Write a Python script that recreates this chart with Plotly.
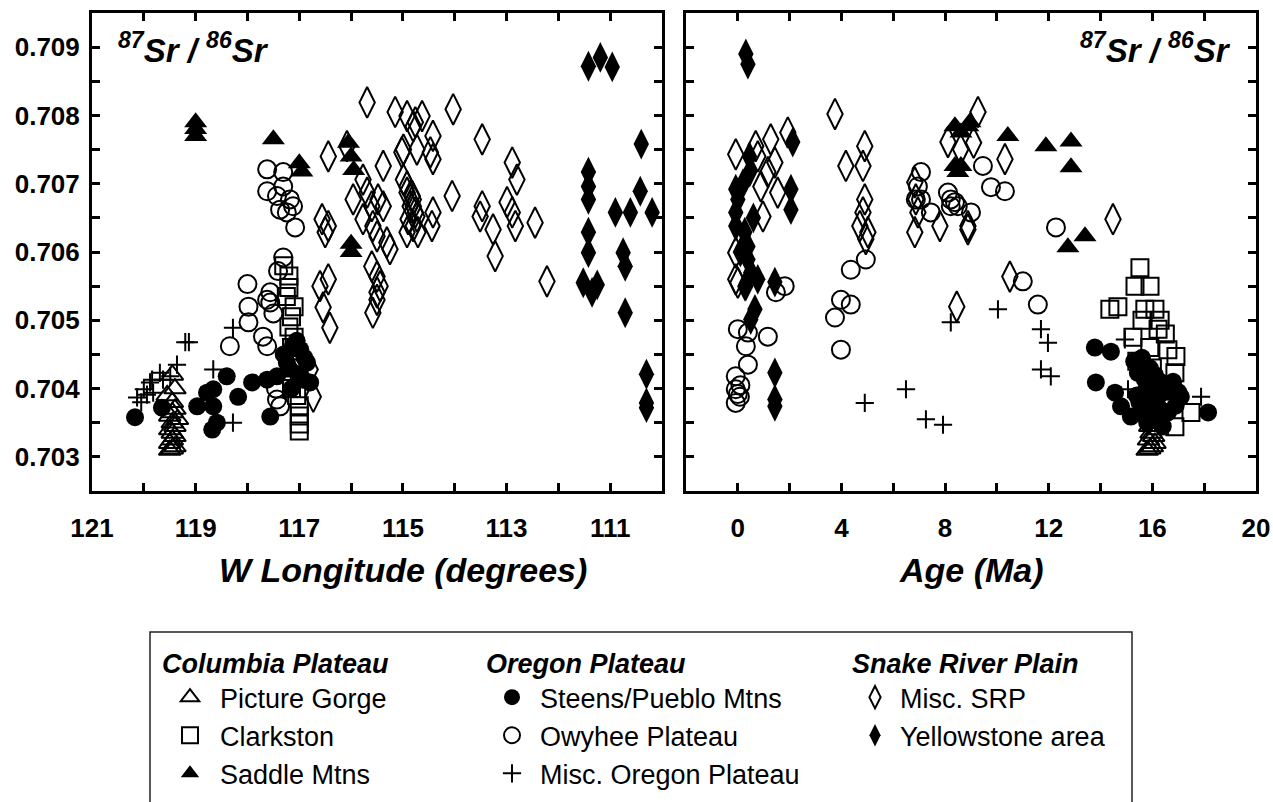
import plotly.graph_objects as go

W, H = 1273, 802
F = "Liberation Sans, Arial, Helvetica, sans-serif"

# ---------------- data (W longitude panel) ----------------
pg_lon = [119.5, 119.45, 119.4, 119.5, 119.45, 119.4, 119.45, 119.5, 119.4, 119.45, 119.35, 119.5, 119.45, 119.4, 119.45, 119.55, 119.4, 119.45]
pg_lon_sr = [0.70310, 0.70312, 0.70315, 0.70320, 0.70325, 0.70330, 0.70335, 0.70340, 0.70345, 0.70350, 0.70355, 0.70360, 0.70365, 0.70370, 0.70380, 0.70390, 0.70400, 0.70420]

cl_lon = [117.3, 117.2, 117.2, 117.25, 117.1, 117.15, 117.2, 117.1, 117.15, 117.05, 117.1, 117.0, 117.15, 117.05, 117.0, 117.0, 117.0, 117.0]
cl_lon_sr = [0.70580, 0.70565, 0.70548, 0.70535, 0.70520, 0.70505, 0.70490, 0.70475, 0.70460, 0.70445, 0.70430, 0.70415, 0.70400, 0.70390, 0.70375, 0.70360, 0.70348, 0.70338]

sm_lon = [119.0, 119.0, 119.0, 117.5, 117.0, 116.95, 116.05, 116.0, 115.95, 116.0, 116.0]
sm_lon_sr = [0.70790, 0.70780, 0.70770, 0.70765, 0.70730, 0.70718, 0.70760, 0.70740, 0.70720, 0.70612, 0.70600]

st_lon = [120.17, 119.65, 118.97, 118.78, 118.66, 118.66, 118.59, 118.68, 118.40, 118.18, 117.91, 117.56, 117.62, 117.43, 117.24, 117.12, 116.98, 116.85, 116.79, 116.93, 117.3, 117.0, 117.15, 116.9, 117.2, 117.05]
st_lon_sr = [0.70358, 0.70372, 0.70374, 0.70394, 0.70399, 0.70374, 0.70350, 0.70340, 0.70418, 0.70388, 0.70409, 0.70359, 0.70413, 0.70418, 0.70438, 0.70462, 0.70457, 0.70438, 0.70409, 0.70413, 0.70450, 0.70420, 0.70400, 0.70445, 0.70430, 0.70470]

ow_lon = [117.62, 117.31, 117.62, 117.43, 117.31, 117.18, 117.12, 117.37, 117.24, 117.08, 117.31, 117.41, 118.0, 117.98, 117.62, 117.56, 117.98, 117.70, 118.34, 117.62, 117.43, 117.37, 117.56, 117.5, 117.45]
ow_lon_sr = [0.70721, 0.70717, 0.70689, 0.70682, 0.70696, 0.70677, 0.70667, 0.70662, 0.70658, 0.70636, 0.70592, 0.70572, 0.70553, 0.70520, 0.70530, 0.70526, 0.70497, 0.70476, 0.70462, 0.70462, 0.70384, 0.70374, 0.70541, 0.70510, 0.70400]

mo_lon = [120.13, 120.0, 119.88, 119.94, 119.82, 119.84, 119.63, 119.49, 119.36, 119.2, 119.13, 118.28, 118.66, 118.28, 119.69, 120.05]
mo_lon_sr = [0.70387, 0.70399, 0.70409, 0.70391, 0.70394, 0.70413, 0.70413, 0.70418, 0.70435, 0.70468, 0.70468, 0.70489, 0.70428, 0.70350, 0.70423, 0.70380]

ms_lon = [115.69, 115.15, 114.76, 116.44, 116.08, 115.38, 115.02, 115.96, 115.77, 115.69, 115.60, 115.48, 115.38, 115.77, 115.58, 115.50, 115.31, 115.25, 116.56, 116.44, 116.50, 116.44, 116.60, 115.60, 115.50, 115.44, 115.50, 114.92, 114.82, 114.80, 114.73, 114.80, 114.92, 116.54, 116.41, 115.58, 115.50, 116.79, 116.73, 114.92, 114.63, 114.80, 114.42, 114.03, 114.99, 114.73, 114.47, 114.42, 113.47, 112.89, 112.80, 114.99, 114.92, 114.80, 114.86, 114.76, 114.90, 114.71, 114.42, 114.44, 114.05, 113.47, 113.51, 113.26, 113.22, 112.99, 112.89, 112.83, 112.45, 112.22]
ms_lon_sr = [0.70819, 0.70805, 0.70790, 0.70740, 0.70755, 0.70726, 0.70746, 0.70677, 0.70706, 0.70687, 0.70667, 0.70677, 0.70667, 0.70648, 0.70638, 0.70623, 0.70614, 0.70604, 0.70648, 0.70638, 0.70629, 0.70560, 0.70550, 0.70579, 0.70564, 0.70550, 0.70541, 0.70696, 0.70682, 0.70667, 0.70652, 0.70638, 0.70629, 0.70519, 0.70489, 0.70511, 0.70530, 0.70428, 0.70388, 0.70799, 0.70799, 0.70784, 0.70770, 0.70809, 0.70750, 0.70750, 0.70746, 0.70736, 0.70765, 0.70731, 0.70706, 0.70706, 0.70687, 0.70677, 0.70667, 0.70658, 0.70648, 0.70629, 0.70658, 0.70638, 0.70682, 0.70667, 0.70652, 0.70633, 0.70594, 0.70673, 0.70658, 0.70638, 0.70643, 0.70557]

ys_lon = [111.42, 111.19, 110.96, 110.40, 111.42, 111.42, 111.42, 110.90, 110.61, 110.42, 110.19, 111.42, 111.42, 110.75, 110.71, 111.52, 111.25, 111.35, 110.71, 110.30, 110.30, 110.30]
ys_lon_sr = [0.70872, 0.70885, 0.70871, 0.70758, 0.70717, 0.70696, 0.70677, 0.70658, 0.70658, 0.70689, 0.70658, 0.70629, 0.70599, 0.70599, 0.70579, 0.70555, 0.70552, 0.70541, 0.70511, 0.70421, 0.70379, 0.70372]

# ---------------- data (Age panel) ----------------
pg_age = [15.8, 15.9, 16.0, 16.1, 15.85, 16.05, 15.95, 16.2, 15.9, 16.0, 16.1, 15.8, 16.0, 15.95, 16.1, 16.0, 15.9, 16.05]
pg_age_sr = [0.70310, 0.70312, 0.70315, 0.70320, 0.70325, 0.70330, 0.70335, 0.70340, 0.70345, 0.70350, 0.70355, 0.70360, 0.70365, 0.70370, 0.70380, 0.70390, 0.70400, 0.70420]

cl_age = [15.52, 15.33, 15.91, 14.36, 14.67, 15.71, 16.10, 15.25, 16.22, 16.60, 16.91, 16.87, 16.87, 17.49, 15.6, 16.3, 15.9, 16.5, 16.0, 15.4, 16.7]
cl_age_sr = [0.70577, 0.70550, 0.70550, 0.70516, 0.70520, 0.70516, 0.70516, 0.70475, 0.70487, 0.70457, 0.70447, 0.70423, 0.70344, 0.70365, 0.70500, 0.70500, 0.70460, 0.70480, 0.70430, 0.70440, 0.70390]

sm_age = [8.38, 8.88, 8.38, 8.49, 8.61, 8.96, 8.61, 10.42, 11.89, 12.86, 12.86, 12.74, 13.40]
sm_age_sr = [0.70784, 0.70784, 0.70726, 0.70717, 0.70775, 0.70790, 0.70726, 0.70770, 0.70755, 0.70762, 0.70724, 0.70607, 0.70623]

st_age = [13.78, 14.40, 13.82, 14.56, 14.79, 15.17, 18.15, 17.1, 15.44, 15.71, 16.22, 16.72, 15.5, 16.0, 16.4, 15.8, 16.9, 15.3,
          15.6, 15.9, 16.1, 16.3, 16.5, 15.7, 16.0, 16.2, 16.6, 15.4, 16.8, 15.9, 16.4, 17.0, 15.6]
st_age_sr = [0.70460, 0.70454, 0.70409, 0.70394, 0.70374, 0.70359, 0.70365, 0.70388, 0.70423, 0.70413, 0.70403, 0.70399, 0.70380, 0.70370, 0.70360, 0.70350, 0.70375, 0.70440,
             0.70445, 0.70430, 0.70420, 0.70410, 0.70395, 0.70395, 0.70385, 0.70375, 0.70365, 0.70390, 0.70410, 0.70355, 0.70345, 0.70395, 0.70365]

ow_age = [7.07, 6.95, 6.87, 7.07, 7.45, 8.11, 8.22, 8.38, 8.49, 8.22, 9.0, 1.81, 4.36, 4.94, 9.46, 9.77, 10.31, 12.28, 11.0, 11.58, 3.98, 4.36, 3.75, 3.98, 0.0, 0.39, 0.31, 0.39, 1.16, -0.08, -0.08, 0.08, -0.08, 1.47, 0.1, 0.0]
ow_age_sr = [0.70717, 0.70696, 0.70677, 0.70677, 0.70658, 0.70687, 0.70677, 0.70673, 0.70667, 0.70667, 0.70658, 0.70550, 0.70574, 0.70589, 0.70726, 0.70695, 0.70689, 0.70636, 0.70557, 0.70523, 0.70530, 0.70523, 0.70504, 0.70457, 0.70487, 0.70482, 0.70462, 0.70435, 0.70476, 0.70418, 0.70399, 0.70388, 0.70379, 0.70541, 0.70405, 0.70392]

mo_age = [4.90, 6.49, 7.26, 7.92, 8.22, 10.04, 11.70, 11.97, 11.70, 12.08, 14.94, 15.06, 17.88, 15.5]
mo_age_sr = [0.70379, 0.70399, 0.70355, 0.70347, 0.70497, 0.70516, 0.70487, 0.70467, 0.70428, 0.70418, 0.70472, 0.70399, 0.70388, 0.70430]

ms_age = [3.75, -0.08, 0.69, 1.27, 0.77, 1.43, 1.16, 0.89, 1.54, 1.93, 0.97, -0.08, -0.08, 4.17, 4.90, 4.83, 4.90, 4.83, 4.71, 5.02, 4.94, 6.83, 6.87, 6.95, 6.83, 7.80, 8.88, 8.11, 9.27, 10.31, 8.88, 14.48, 10.50, 8.45, 0.0, 9.1, 8.6]
ms_age_sr = [0.70802, 0.70743, 0.70755, 0.70765, 0.70740, 0.70731, 0.70717, 0.70696, 0.70687, 0.70775, 0.70652, 0.70599, 0.70560, 0.70726, 0.70755, 0.70726, 0.70677, 0.70658, 0.70638, 0.70629, 0.70619, 0.70702, 0.70677, 0.70658, 0.70629, 0.70638, 0.70638, 0.70761, 0.70805, 0.70736, 0.70633, 0.70648, 0.70564, 0.70520, 0.70555, 0.70760, 0.70750]

ys_age = [0.31, 0.39, 0.46, -0.08, 0.0, -0.08, -0.08, 0.27, 0.39, 0.39, 0.5, 0.77, 0.31, 2.12, 2.05, 2.05, 1.43, 0.27, 0.66, 0.50, 1.43, 1.43, 1.43, 0.2, 0.6, 0.1, 0.45]
ys_age_sr = [0.70890, 0.70875, 0.70717, 0.70692, 0.70677, 0.70658, 0.70638, 0.70629, 0.70608, 0.70589, 0.70570, 0.70560, 0.70550, 0.70761, 0.70692, 0.70662, 0.70556, 0.70550, 0.70516, 0.70501, 0.70423, 0.70384, 0.70374, 0.70700, 0.70650, 0.70600, 0.70740]

# ---------------- series definitions ----------------
series = [
    # name, legend, symbol, size, lon, lon_sr, age, age_sr
    ("Picture Gorge", "legend", "triangle-up-open", 19, pg_lon, pg_lon_sr, pg_age, pg_age_sr),
    ("Clarkston", "legend", "square-open", 17, cl_lon, cl_lon_sr, cl_age, cl_age_sr),
    ("Saddle Mtns", "legend", "triangle-up", 20, sm_lon, sm_lon_sr, sm_age, sm_age_sr),
    ("Steens/Pueblo Mtns", "legend2", "circle", 18, st_lon, st_lon_sr, st_age, st_age_sr),
    ("Owyhee Plateau", "legend2", "circle-open", 18, ow_lon, ow_lon_sr, ow_age, ow_age_sr),
    ("Misc. Oregon Plateau", "legend2", "cross-thin-open", 13, mo_lon, mo_lon_sr, mo_age, mo_age_sr),
    ("Misc. SRP", "legend3", "diamond-tall-open", 22, ms_lon, ms_lon_sr, ms_age, ms_age_sr),
    ("Yellowstone area", "legend3", "diamond-tall", 22, ys_lon, ys_lon_sr, ys_age, ys_age_sr),
]

fig = go.Figure()
for name, leg, sym, size, lon, lsr, age, asr in series:
    mk = dict(symbol=sym, size=size, color="black",
              line=dict(color="black", width=2 if "open" in sym else 0))
    fig.add_trace(go.Scatter(x=lon, y=lsr, mode="markers", name=name, marker=mk,
                             xaxis="x", yaxis="y", legend=leg, showlegend=True))
    fig.add_trace(go.Scatter(x=age, y=asr, mode="markers", name=name, marker=mk,
                             xaxis="x2", yaxis="y2", legend=leg, showlegend=False))


def px_x(p):
    return p / W


def px_y(p):
    return 1 - p / H


tick_common = dict(ticks="inside", ticklen=8, tickwidth=3, tickcolor="black",
                   showline=True, linewidth=3, linecolor="black", mirror="ticks",
                   showgrid=False, zeroline=False)
minor_common = dict(ticks="inside", ticklen=8, tickwidth=3, tickcolor="black", showgrid=False)
tickfont = dict(family=F, size=26, color="black", weight="bold")

ydom = [px_y(491), px_y(13)]

fig.update_layout(
    width=W, height=H,
    margin=dict(l=0, r=0, t=0, b=0, autoexpand=False),
    paper_bgcolor="white", plot_bgcolor="white",
    xaxis=dict(domain=[px_x(92), px_x(662)], range=[121, 110], tick0=111, dtick=2,
               minor=dict(dtick=1, **minor_common), anchor="y",
               tickfont=tickfont, ticklabelstandoff=12, **tick_common),
    yaxis=dict(domain=ydom, range=[0.7025, 0.7095], tick0=0.703, dtick=0.001,
               tickformat=".3f", minor=dict(dtick=0.0005, **minor_common), anchor="x",
               tickfont=tickfont, ticklabelstandoff=4, **tick_common),
    xaxis2=dict(domain=[px_x(686), px_x(1256)], range=[-2, 20], tick0=0, dtick=4,
                minor=dict(dtick=2, **minor_common), anchor="y2",
                tickfont=tickfont, ticklabelstandoff=12, **tick_common),
    yaxis2=dict(domain=ydom, range=[0.7025, 0.7095], tick0=0.703, dtick=0.001,
                minor=dict(dtick=0.0005, **minor_common), anchor="x2",
                showticklabels=False, **tick_common),
    showlegend=True,
)

title_font = dict(family=F, size=34, color="black", weight="bold", style="italic")
sr_font = dict(family=F, size=33, color="black", weight="bold", style="italic")
sr_text = "<sup>87</sup>Sr / <sup>86</sup>Sr"

fig.add_annotation(text="W Longitude (degrees)", x=px_x(217), y=px_y(570), xref="paper", yref="paper",
                   xanchor="left", yanchor="middle", showarrow=False, font=title_font)
fig.add_annotation(text="Age (Ma)", x=px_x(971), y=px_y(570), xref="paper", yref="paper",
                   xanchor="center", yanchor="middle", showarrow=False, font=title_font)
fig.add_annotation(text=sr_text, x=px_x(116), y=px_y(48), xref="paper", yref="paper",
                   xanchor="left", yanchor="middle", showarrow=False, font=sr_font)
fig.add_annotation(text=sr_text, x=px_x(1233), y=px_y(48), xref="paper", yref="paper",
                   xanchor="right", yanchor="middle", showarrow=False, font=sr_font)

# legend frame
fig.add_shape(type="rect", xref="paper", yref="paper", x0=px_x(150), x1=px_x(1132),
              y0=px_y(632), y1=px_y(830), line=dict(color="#222222", width=1.5),
              fillcolor="rgba(0,0,0,0)")

leg_font = dict(family=F, size=27, color="black")
leg_title_font = dict(family=F, size=27, color="black", weight="bold", style="italic")


def make_legend(x, title, itemwidth):
    return dict(x=px_x(x), y=px_y(638), xanchor="left", yanchor="top",
                bgcolor="rgba(0,0,0,0)", borderwidth=0, font=leg_font,
                title=dict(text=title, font=leg_title_font, side="top"),
                itemsizing="trace", itemwidth=itemwidth, tracegroupgap=0,
                orientation="v")


fig.update_layout(
    legend=make_legend(160, "Columbia Plateau", 50),
    legend2=make_legend(484, "Oregon Plateau", 46),
    legend3=make_legend(850, "Snake River Plain", 40),
)

fig.write_html("out.html")
